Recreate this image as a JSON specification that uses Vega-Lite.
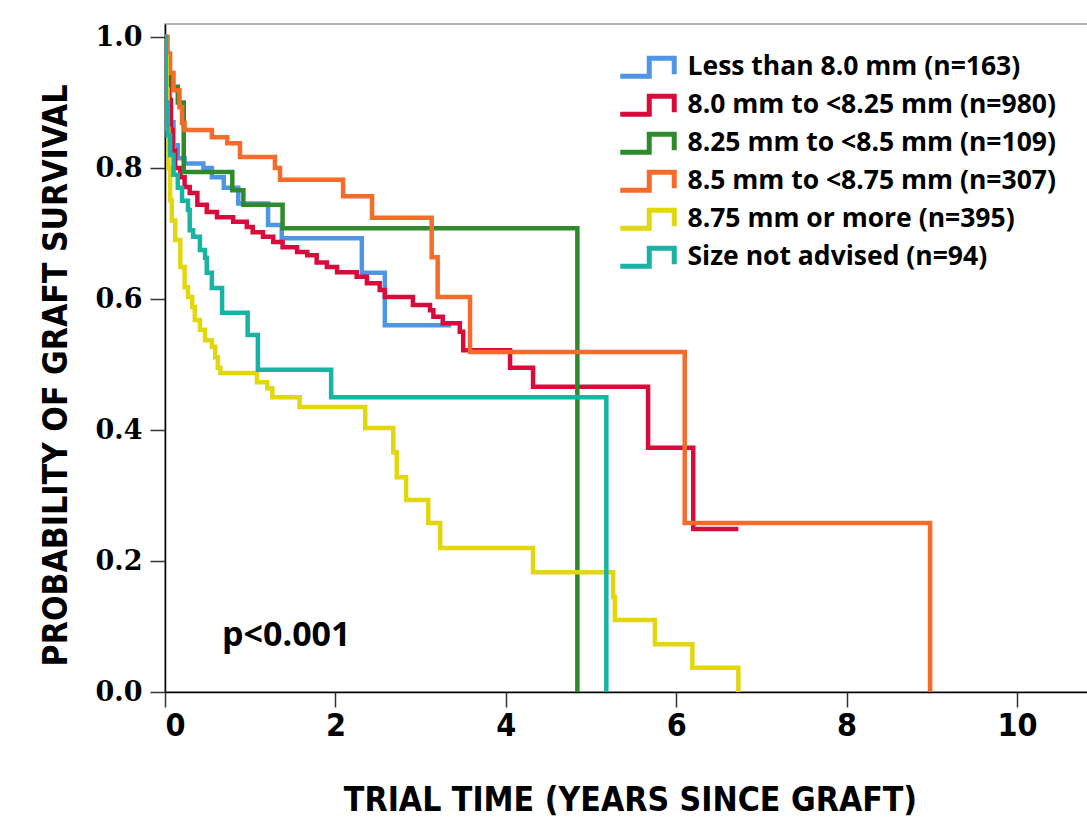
{
  "$schema": "https://vega.github.io/schema/vega-lite/v6.json",
  "width": 924,
  "height": 668,
  "autosize": {"type": "none"},
  "padding": {"left": 165, "top": 24, "right": 0, "bottom": 133},
  "background": "white",
  "config": {
    "view": {"stroke": "#9a9a9a", "strokeWidth": 1.5},
    "axis": {"grid": false, "domainColor": "black", "domainWidth": 1.5, "tickColor": "#333", "tickWidth": 1.5, "tickSize": 15, "labelColor": "black", "titleColor": "black"}
  },
  "layer": [
    {
      "data": {"values": [
        {"g":"Less than 8.0 mm (n=163)","t":0,"s":1},
        {"g":"Less than 8.0 mm (n=163)","t":0.02,"s":0.95},
        {"g":"Less than 8.0 mm (n=163)","t":0.05,"s":0.87},
        {"g":"Less than 8.0 mm (n=163)","t":0.1,"s":0.835},
        {"g":"Less than 8.0 mm (n=163)","t":0.15,"s":0.815},
        {"g":"Less than 8.0 mm (n=163)","t":0.23,"s":0.807},
        {"g":"Less than 8.0 mm (n=163)","t":0.45,"s":0.8},
        {"g":"Less than 8.0 mm (n=163)","t":0.55,"s":0.786},
        {"g":"Less than 8.0 mm (n=163)","t":0.69,"s":0.77},
        {"g":"Less than 8.0 mm (n=163)","t":0.86,"s":0.746},
        {"g":"Less than 8.0 mm (n=163)","t":1.21,"s":0.713},
        {"g":"Less than 8.0 mm (n=163)","t":1.37,"s":0.693},
        {"g":"Less than 8.0 mm (n=163)","t":2.31,"s":0.64},
        {"g":"Less than 8.0 mm (n=163)","t":2.58,"s":0.56},
        {"g":"Less than 8.0 mm (n=163)","t":3.36,"s":0.56},

        {"g":"8.0 mm to <8.25 mm (n=980)","t":0,"s":1},
        {"g":"8.0 mm to <8.25 mm (n=980)","t":0.02,"s":0.965},
        {"g":"8.0 mm to <8.25 mm (n=980)","t":0.05,"s":0.904},
        {"g":"8.0 mm to <8.25 mm (n=980)","t":0.07,"s":0.858},
        {"g":"8.0 mm to <8.25 mm (n=980)","t":0.09,"s":0.827},
        {"g":"8.0 mm to <8.25 mm (n=980)","t":0.12,"s":0.8},
        {"g":"8.0 mm to <8.25 mm (n=980)","t":0.18,"s":0.786},
        {"g":"8.0 mm to <8.25 mm (n=980)","t":0.23,"s":0.771},
        {"g":"8.0 mm to <8.25 mm (n=980)","t":0.29,"s":0.762},
        {"g":"8.0 mm to <8.25 mm (n=980)","t":0.38,"s":0.744},
        {"g":"8.0 mm to <8.25 mm (n=980)","t":0.49,"s":0.733},
        {"g":"8.0 mm to <8.25 mm (n=980)","t":0.61,"s":0.725},
        {"g":"8.0 mm to <8.25 mm (n=980)","t":0.8,"s":0.718},
        {"g":"8.0 mm to <8.25 mm (n=980)","t":0.96,"s":0.71},
        {"g":"8.0 mm to <8.25 mm (n=980)","t":1.03,"s":0.702},
        {"g":"8.0 mm to <8.25 mm (n=980)","t":1.15,"s":0.695},
        {"g":"8.0 mm to <8.25 mm (n=980)","t":1.27,"s":0.687},
        {"g":"8.0 mm to <8.25 mm (n=980)","t":1.38,"s":0.679},
        {"g":"8.0 mm to <8.25 mm (n=980)","t":1.55,"s":0.672},
        {"g":"8.0 mm to <8.25 mm (n=980)","t":1.67,"s":0.667},
        {"g":"8.0 mm to <8.25 mm (n=980)","t":1.78,"s":0.656},
        {"g":"8.0 mm to <8.25 mm (n=980)","t":1.9,"s":0.649},
        {"g":"8.0 mm to <8.25 mm (n=980)","t":2.02,"s":0.641},
        {"g":"8.0 mm to <8.25 mm (n=980)","t":2.25,"s":0.634},
        {"g":"8.0 mm to <8.25 mm (n=980)","t":2.37,"s":0.624},
        {"g":"8.0 mm to <8.25 mm (n=980)","t":2.52,"s":0.614},
        {"g":"8.0 mm to <8.25 mm (n=980)","t":2.58,"s":0.603},
        {"g":"8.0 mm to <8.25 mm (n=980)","t":2.91,"s":0.591},
        {"g":"8.0 mm to <8.25 mm (n=980)","t":3.11,"s":0.583},
        {"g":"8.0 mm to <8.25 mm (n=980)","t":3.15,"s":0.573},
        {"g":"8.0 mm to <8.25 mm (n=980)","t":3.26,"s":0.563},
        {"g":"8.0 mm to <8.25 mm (n=980)","t":3.46,"s":0.55},
        {"g":"8.0 mm to <8.25 mm (n=980)","t":3.5,"s":0.522},
        {"g":"8.0 mm to <8.25 mm (n=980)","t":4.05,"s":0.495},
        {"g":"8.0 mm to <8.25 mm (n=980)","t":4.32,"s":0.466},
        {"g":"8.0 mm to <8.25 mm (n=980)","t":5.67,"s":0.373},
        {"g":"8.0 mm to <8.25 mm (n=980)","t":6.2,"s":0.249},
        {"g":"8.0 mm to <8.25 mm (n=980)","t":6.73,"s":0.249},

        {"g":"8.25 mm to <8.5 mm (n=109)","t":0,"s":1},
        {"g":"8.25 mm to <8.5 mm (n=109)","t":0.01,"s":0.97},
        {"g":"8.25 mm to <8.5 mm (n=109)","t":0.035,"s":0.945},
        {"g":"8.25 mm to <8.5 mm (n=109)","t":0.09,"s":0.924},
        {"g":"8.25 mm to <8.5 mm (n=109)","t":0.15,"s":0.9},
        {"g":"8.25 mm to <8.5 mm (n=109)","t":0.22,"s":0.794},
        {"g":"8.25 mm to <8.5 mm (n=109)","t":0.79,"s":0.766},
        {"g":"8.25 mm to <8.5 mm (n=109)","t":0.92,"s":0.744},
        {"g":"8.25 mm to <8.5 mm (n=109)","t":1.38,"s":0.708},
        {"g":"8.25 mm to <8.5 mm (n=109)","t":4.84,"s":0},

        {"g":"8.5 mm to <8.75 mm (n=307)","t":0,"s":1},
        {"g":"8.5 mm to <8.75 mm (n=307)","t":0.03,"s":0.975},
        {"g":"8.5 mm to <8.75 mm (n=307)","t":0.06,"s":0.945},
        {"g":"8.5 mm to <8.75 mm (n=307)","t":0.1,"s":0.919},
        {"g":"8.5 mm to <8.75 mm (n=307)","t":0.17,"s":0.893},
        {"g":"8.5 mm to <8.75 mm (n=307)","t":0.2,"s":0.869},
        {"g":"8.5 mm to <8.75 mm (n=307)","t":0.23,"s":0.858},
        {"g":"8.5 mm to <8.75 mm (n=307)","t":0.55,"s":0.847},
        {"g":"8.5 mm to <8.75 mm (n=307)","t":0.73,"s":0.838},
        {"g":"8.5 mm to <8.75 mm (n=307)","t":0.88,"s":0.817},
        {"g":"8.5 mm to <8.75 mm (n=307)","t":1.29,"s":0.8},
        {"g":"8.5 mm to <8.75 mm (n=307)","t":1.35,"s":0.782},
        {"g":"8.5 mm to <8.75 mm (n=307)","t":2.09,"s":0.757},
        {"g":"8.5 mm to <8.75 mm (n=307)","t":2.43,"s":0.724},
        {"g":"8.5 mm to <8.75 mm (n=307)","t":3.13,"s":0.664},
        {"g":"8.5 mm to <8.75 mm (n=307)","t":3.2,"s":0.603},
        {"g":"8.5 mm to <8.75 mm (n=307)","t":3.58,"s":0.519},
        {"g":"8.5 mm to <8.75 mm (n=307)","t":6.1,"s":0.258},
        {"g":"8.5 mm to <8.75 mm (n=307)","t":8.98,"s":0},

        {"g":"8.75 mm or more (n=395)","t":0,"s":1},
        {"g":"8.75 mm or more (n=395)","t":0.01,"s":0.97},
        {"g":"8.75 mm or more (n=395)","t":0.02,"s":0.92},
        {"g":"8.75 mm or more (n=395)","t":0.03,"s":0.86},
        {"g":"8.75 mm or more (n=395)","t":0.04,"s":0.8},
        {"g":"8.75 mm or more (n=395)","t":0.06,"s":0.751},
        {"g":"8.75 mm or more (n=395)","t":0.08,"s":0.72},
        {"g":"8.75 mm or more (n=395)","t":0.12,"s":0.69},
        {"g":"8.75 mm or more (n=395)","t":0.18,"s":0.649},
        {"g":"8.75 mm or more (n=395)","t":0.23,"s":0.618},
        {"g":"8.75 mm or more (n=395)","t":0.27,"s":0.603},
        {"g":"8.75 mm or more (n=395)","t":0.32,"s":0.588},
        {"g":"8.75 mm or more (n=395)","t":0.35,"s":0.568},
        {"g":"8.75 mm or more (n=395)","t":0.41,"s":0.553},
        {"g":"8.75 mm or more (n=395)","t":0.47,"s":0.537},
        {"g":"8.75 mm or more (n=395)","t":0.55,"s":0.527},
        {"g":"8.75 mm or more (n=395)","t":0.59,"s":0.511},
        {"g":"8.75 mm or more (n=395)","t":0.62,"s":0.495},
        {"g":"8.75 mm or more (n=395)","t":0.65,"s":0.487},
        {"g":"8.75 mm or more (n=395)","t":1.08,"s":0.473},
        {"g":"8.75 mm or more (n=395)","t":1.2,"s":0.464},
        {"g":"8.75 mm or more (n=395)","t":1.26,"s":0.45},
        {"g":"8.75 mm or more (n=395)","t":1.58,"s":0.435},
        {"g":"8.75 mm or more (n=395)","t":2.35,"s":0.403},
        {"g":"8.75 mm or more (n=395)","t":2.68,"s":0.366},
        {"g":"8.75 mm or more (n=395)","t":2.72,"s":0.328},
        {"g":"8.75 mm or more (n=395)","t":2.83,"s":0.293},
        {"g":"8.75 mm or more (n=395)","t":3.09,"s":0.258},
        {"g":"8.75 mm or more (n=395)","t":3.23,"s":0.22},
        {"g":"8.75 mm or more (n=395)","t":4.32,"s":0.183},
        {"g":"8.75 mm or more (n=395)","t":5.26,"s":0.145},
        {"g":"8.75 mm or more (n=395)","t":5.28,"s":0.11},
        {"g":"8.75 mm or more (n=395)","t":5.75,"s":0.073},
        {"g":"8.75 mm or more (n=395)","t":6.19,"s":0.037},
        {"g":"8.75 mm or more (n=395)","t":6.73,"s":0},

        {"g":"Size not advised (n=94)","t":0,"s":1},
        {"g":"Size not advised (n=94)","t":0.01,"s":0.9},
        {"g":"Size not advised (n=94)","t":0.03,"s":0.85},
        {"g":"Size not advised (n=94)","t":0.06,"s":0.82},
        {"g":"Size not advised (n=94)","t":0.1,"s":0.79},
        {"g":"Size not advised (n=94)","t":0.15,"s":0.77},
        {"g":"Size not advised (n=94)","t":0.2,"s":0.75},
        {"g":"Size not advised (n=94)","t":0.27,"s":0.736},
        {"g":"Size not advised (n=94)","t":0.29,"s":0.705},
        {"g":"Size not advised (n=94)","t":0.33,"s":0.695},
        {"g":"Size not advised (n=94)","t":0.41,"s":0.675},
        {"g":"Size not advised (n=94)","t":0.47,"s":0.663},
        {"g":"Size not advised (n=94)","t":0.49,"s":0.64},
        {"g":"Size not advised (n=94)","t":0.55,"s":0.617},
        {"g":"Size not advised (n=94)","t":0.67,"s":0.579},
        {"g":"Size not advised (n=94)","t":0.97,"s":0.545},
        {"g":"Size not advised (n=94)","t":1.09,"s":0.492},
        {"g":"Size not advised (n=94)","t":1.95,"s":0.45},
        {"g":"Size not advised (n=94)","t":5.18,"s":0}
      ]},
      "mark": {"type": "line", "interpolate": "step-after", "strokeWidth": 4.5, "clip": true},
      "encoding": {
        "x": {"field": "t", "type": "quantitative",
          "scale": {"domain": [0, 10.845], "nice": false, "zero": false},
          "axis": {"values": [0, 2, 4, 6, 8, 10], "format": "d", "title": "TRIAL TIME (YEARS SINCE GRAFT)",
            "labelFont": "DejaVu Sans Condensed", "labelFontWeight": "bold", "labelFontSize": 32, "labelPadding": 3,
            "titleFont": "DejaVu Sans Condensed", "titleFontWeight": "bold", "titleFontSize": 33.5,
            "titleX": 465, "titleY": 108, "titleBaseline": "middle", "titleAlign": "center"}},
        "y": {"field": "s", "type": "quantitative",
          "scale": {"domain": [0, 1.02], "nice": false},
          "axis": {"values": [0, 0.2, 0.4, 0.6, 0.8, 1.0], "format": ".1f", "title": "PROBABILITY OF GRAFT SURVIVAL",
            "labelFont": "DejaVu Serif", "labelFontWeight": "bold", "labelFontSize": 27, "labelPadding": 8,
            "titleFont": "DejaVu Sans Condensed", "titleFontWeight": "bold", "titleFontSize": 33.5,
            "titleX": -109, "titleY": 351, "titleBaseline": "middle", "titleAlign": "center", "titleAngle": 270}},
        "color": {"field": "g", "type": "nominal",
          "scale": {"domain": ["Less than 8.0 mm (n=163)", "8.0 mm to <8.25 mm (n=980)", "8.25 mm to <8.5 mm (n=109)", "8.5 mm to <8.75 mm (n=307)", "8.75 mm or more (n=395)", "Size not advised (n=94)"],
            "range": ["#4f95e6", "#d90a3c", "#2e8a2a", "#f56b2a", "#e2d60c", "#18b3a3"]},
          "legend": {"orient": "none", "legendX": 470, "legendY": 30, "title": null, "padding": 0,
            "symbolType": "M-2.8,0.9L0.1,0.9L0.1,-0.9L2.6,-0.9L2.6,0.7", "symbolSize": 400, "symbolStrokeWidth": 5, "symbolFillColor": "transparent",
            "labelFont": "Open Sans", "labelFontWeight": "bold", "labelFontSize": 26.5, "labelColor": "black", "labelOffset": 26, "labelLimit": 600, "rowPadding": -1}}
      }
    },
    {
      "data": {"values": [{"label": "p<0.001"}]},
      "mark": {"type": "text", "align": "left", "baseline": "alphabetic", "font": "Open Sans", "fontWeight": "bold", "fontSize": 34, "color": "black"},
      "encoding": {
        "x": {"datum": 0.67},
        "y": {"datum": 0.07},
        "text": {"field": "label", "type": "nominal"}
      }
    }
  ]
}
